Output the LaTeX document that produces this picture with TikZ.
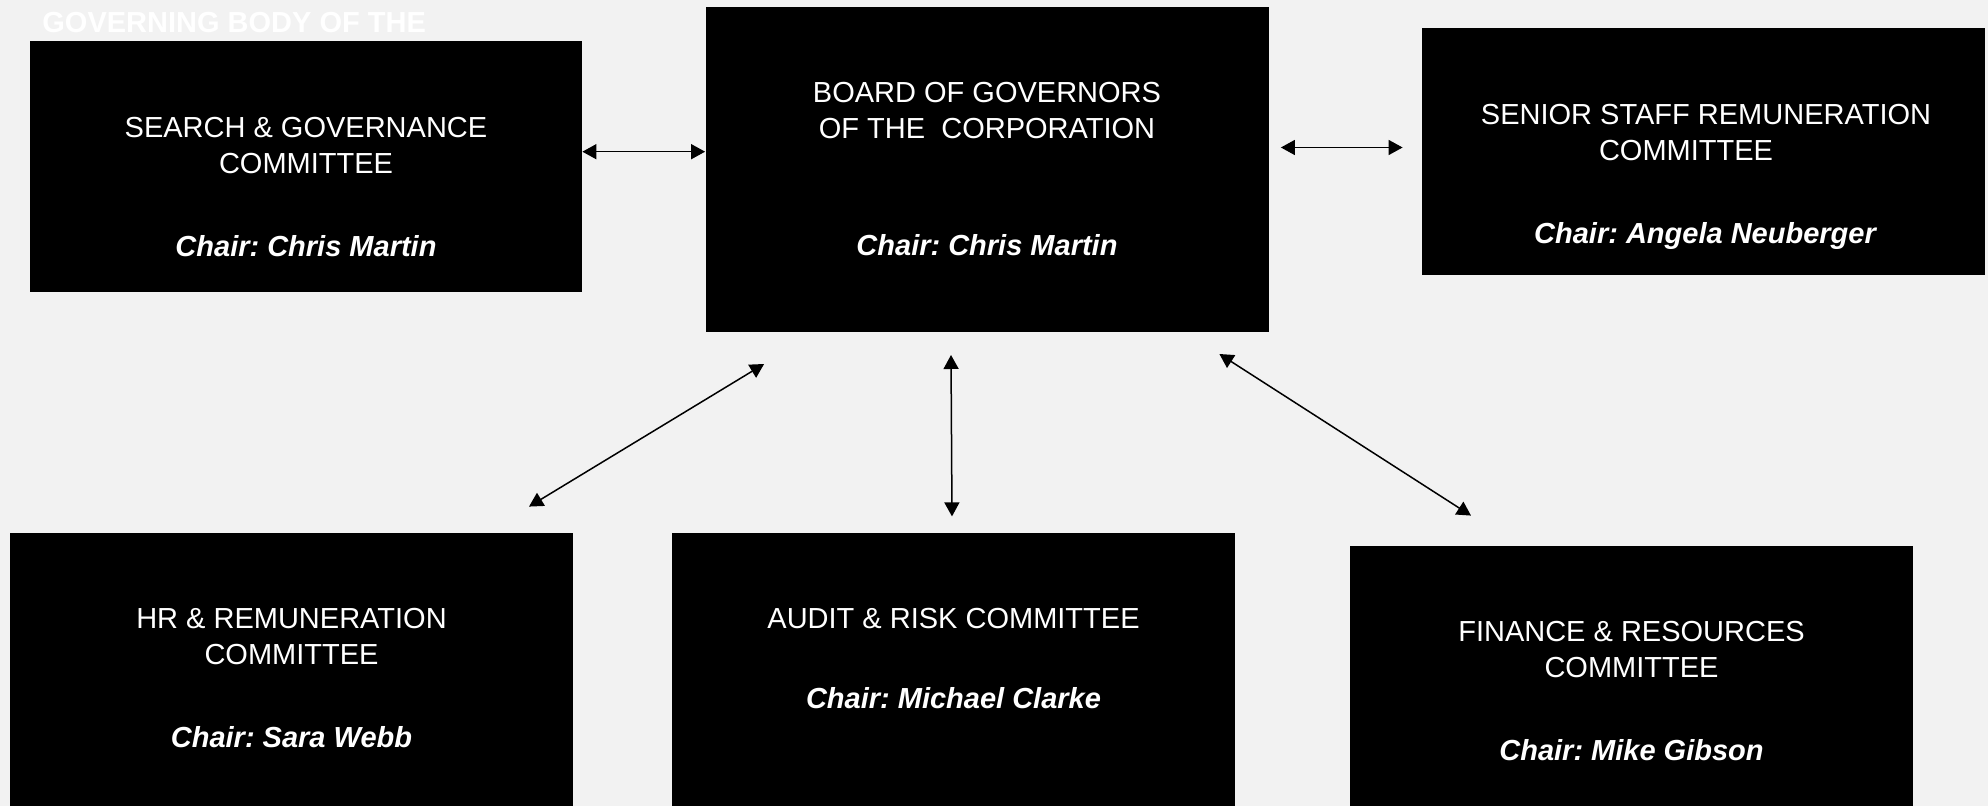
\documentclass[tikz,border=0pt]{standalone}
\usepackage{fontspec}
\setmainfont{Liberation Sans}
\usepackage{tikz}
\usetikzlibrary{calc}
\usetikzlibrary{arrows.meta, positioning}

\definecolor{pagebg}{HTML}{F2F2F2}
\frenchspacing

\tikzset{
  cbox/.style={fill=black, inner sep=0pt, minimum width=281.5pt},
  ctitle/.style={text=white, align=center, inner sep=0pt, anchor=north, font=\fontsize{14.5}{18}\selectfont},
  cchair/.style={text=white, inner sep=0pt, anchor=base, font=\fontsize{14.5}{18}\selectfont\bfseries\itshape},
  link/.style={>={Triangle[length=7pt,width=7.5pt]}, <->, line width=0.75pt}
}

\begin{document}
\begin{tikzpicture}[x=0.5pt, y=-0.5pt]
				% Page
				\fill[pagebg] (0,0) rectangle (1988,806);
				\useasboundingbox (0,0) rectangle (1988,806);
				
				% Heading
				\node[text=white, inner sep=0pt, anchor=base west, font=\fontsize{14.5}{18}\selectfont\bfseries] (heading) at (42,32.7) {GOVERNING BODY OF THE};
				
				% Top row
				\node[cbox, minimum width=276pt, minimum height=125.5pt] (search) at (306,166.5) {};
				\node[cbox, minimum height=162.5pt] (board) at (987,169.5) {};
				\node[cbox, minimum height=123.5pt] (senior) at (1703.5,151.5) {};
				
				% Bottom row
				\node[cbox, minimum height=150pt] (hr) at (291.5,683) {};
				\node[cbox, minimum height=150pt] (audit) at (953.5,683) {};
				\node[cbox, minimum height=150pt] (finance) at (1631.5,696) {};
				
				% Texts
				\node[ctitle] (search-title) at (306,116.7) {SEARCH \& GOVERNANCE\\COMMITTEE};
				\node[cchair] (search-chair) at (306,256.7) {Chair: Chris Martin};
				\node[ctitle] (board-title) at (987,82) {BOARD OF GOVERNORS\\OF THE\ \ CORPORATION};
				\node[cchair] (board-chair) at (987,256) {Chair: Chris Martin};
				\node[ctitle] (senior-title) at (1706,103.6) {SENIOR STAFF REMUNERATION\\COMMITTEE\hspace*{20pt}};
				\node[cchair] (senior-chair) at (1705,244) {Chair: Angela Neuberger};
				\node[ctitle] (hr-title) at (291.5,608) {HR \& REMUNERATION\\COMMITTEE};
				\node[cchair] (hr-chair) at (291.5,748) {Chair: Sara Webb};
				\node[ctitle] (audit-title) at (953.5,608) {AUDIT \& RISK COMMITTEE};
				\node[cchair] (audit-chair) at (953.5,709) {Chair: Michael Clarke};
				\node[ctitle] (finance-title) at (1631.5,620.7) {FINANCE \& RESOURCES\\COMMITTEE};
				\node[cchair] (finance-chair) at (1631.5,760.7) {Chair: Mike Gibson};
				
				% Links to the board
				\draw[link] ($(search.east)+(0,-14.8)$) -- ($(board.west)+(0,-17.8)$);
				\draw[link] ($(board.east)+(12,-22)$) -- ($(senior.west)+(-19,-4)$);
				\draw[link] ($(hr.north)+(237.5,-26)$) -- ($(board.south west)+(59,31.6)$);
				\draw[link] ($(board.south)+(-36,22.6)$) -- ($(audit.north)+(-1.5,-16.2)$);
				\draw[link] ($(board.south east)+(-49.5,21.6)$) -- ($(finance.north)+(-160.5,-30)$);
			\end{tikzpicture}
\end{document}
